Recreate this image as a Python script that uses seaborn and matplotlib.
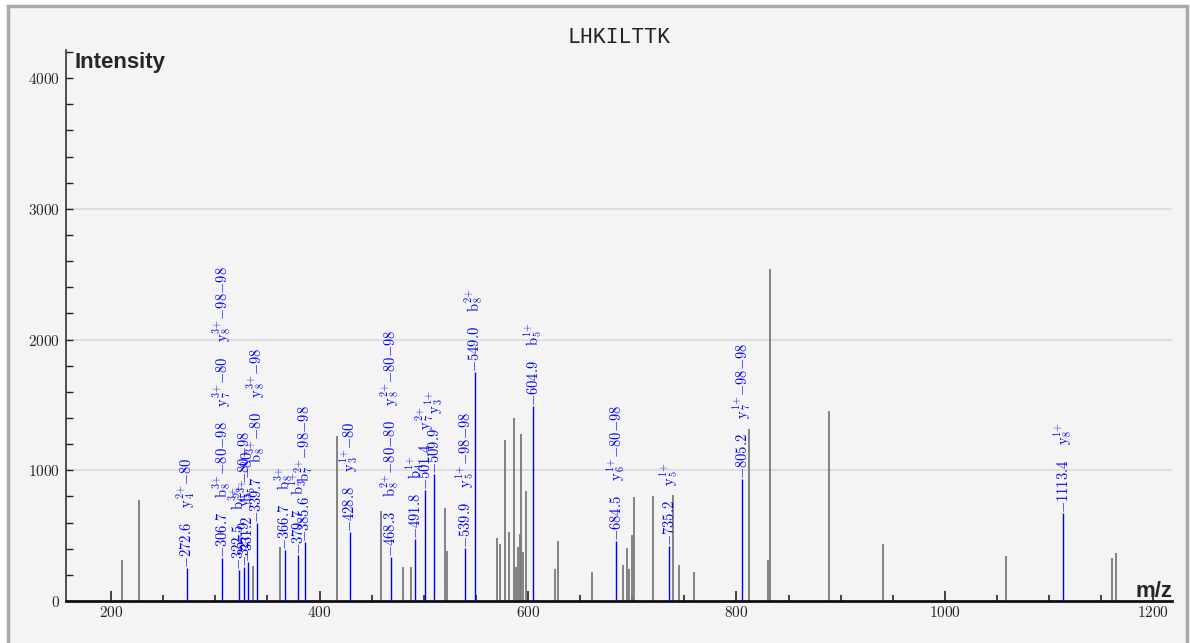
import re
import numpy as np
import pandas as pd
import matplotlib
matplotlib.use("Agg")
import matplotlib.pyplot as plt
import seaborn as sns
from matplotlib.ticker import MultipleLocator, FuncFormatter
from matplotlib.patches import Rectangle

# unmatched (grey) peaks
grey_mz = [210.9, 227.2, 336.0, 362.0, 416.8, 458.7, 480.2, 488.2, 520.2, 522.5,
           570.4, 572.9, 578.4, 581.6, 586.4, 588.6, 590.2, 592.1, 593.1, 595.0,
           598.2, 626.0, 629.2, 661.2, 691.6, 695.4, 697.0, 699.6, 701.5, 719.8,
           739.5, 744.9, 759.0, 812.1, 830.0, 832.2, 888.8, 940.6, 1058.8, 1159.8,
           1164.5]
grey_int = [314, 772, 270, 415, 1262, 691, 260, 262, 714, 385,
            479, 436, 1231, 525, 1397, 262, 410, 512, 1275, 377,
            844, 245, 459, 224, 275, 403, 245, 505, 798, 806,
            808, 275, 219, 1315, 314, 2537, 1453, 436, 344, 326,
            365]

# matched (blue) peaks and their annotations
ion_mz = [272.6, 306.7, 322.5, 327.9, 331.2, 339.7, 366.7, 379.7, 385.6, 428.8,
          468.3, 491.8, 501.4, 509.9, 539.9, 549.0, 604.9, 684.5, 735.2, 805.2,
          1113.4]
ion_int = [250, 326, 237, 260, 298, 596, 390, 352, 454, 530,
           339, 472, 849, 969, 403, 1754, 1494, 459, 423, 933,
           671]
ion_names = [
    ["y4^2+-80"],
    ["b8^3+-80-98", "y7^3+-80", "y8^3+-98-98"],
    ["b6^3+"],
    ["y5^2+-80-98"],
    ["b5^3+-80"],
    ["b8^3+-80", "y8^3+-98"],
    ["b8^3+"],
    ["b3^1+"],
    ["b7^2+-98-98"],
    ["y3^1+-80"],
    ["b8^2+-80-80", "y8^2+-80-98"],
    ["b4^1+"],
    ["y7^2+"],
    ["y3^1+"],
    ["y5^1+-98-98"],
    ["b8^2+"],
    ["b5^1+"],
    ["y6^1+-80-98"],
    ["y5^1+"],
    ["y7^1+-98-98"],
    ["y8^1+"],
]

peptide = "LHKILTTK"

BLUE = "#0000ff"


def ion_tex(s):
    m = re.match(r"([a-z])(\d+)\^(\d)\+(.*)", s)
    series, idx, charge, loss = m.groups()
    loss = loss.replace("-", "{-}")
    return r"\mathrm{%s}_{%s}^{%s{+}}%s" % (series, idx, charge, loss)


def create_plot():
    sns.set_theme(style="white")
    plt.rcParams["mathtext.fontset"] = "cm"
    plt.rcParams["font.family"] = ["DejaVu Sans"]

    fig = plt.figure(figsize=(11.9, 6.43), dpi=100, facecolor="white")
    # panel frame
    fig.patches.append(Rectangle((8 / 1190, -0.05), 1179 / 1190, 1.05 - 6.5 / 643,
                                 transform=fig.transFigure, facecolor="#f4f4f4",
                                 edgecolor="#a9a9a9", linewidth=2.5, zorder=-10))

    ax = fig.add_axes([66 / 1190, 1 - 601 / 643, 1106 / 1190, 551 / 643])
    ax.set_facecolor("none")

    grey = pd.DataFrame({"mz": grey_mz, "intensity": grey_int})
    ions = pd.DataFrame({"mz": ion_mz, "intensity": ion_int})

    ax.vlines(grey["mz"], 0, grey["intensity"], color="#7a7a7a", linewidth=1.3, zorder=2)
    ax.vlines(ions["mz"], 0, ions["intensity"], color=BLUE, linewidth=1.0, zorder=3)

    for mz, inten, names in zip(ion_mz, ion_int, ion_names):
        parts = [r"{-}%.1f" % mz] + [ion_tex(n) for n in names]
        label = "$" + r"\quad\;".join(parts) + "$"
        ax.text(mz, inten, label, rotation=90, ha="center", va="bottom",
                color=BLUE, fontsize=10.5, zorder=4)

    ax.set_xlim(156.8, 1217.8)
    ax.set_ylim(0, 4215)

    ax.xaxis.set_major_locator(MultipleLocator(200))
    ax.xaxis.set_minor_locator(MultipleLocator(50))
    ax.yaxis.set_major_locator(MultipleLocator(1000))
    ax.yaxis.set_minor_locator(MultipleLocator(200))
    fmt = FuncFormatter(lambda v, p: "$%d$" % v)
    ax.xaxis.set_major_formatter(fmt)
    ax.yaxis.set_major_formatter(fmt)

    ax.tick_params(axis="x", which="major", direction="in", length=7.5, width=1.2,
                   color="#222222", labelsize=11, pad=3, bottom=True)
    ax.tick_params(axis="x", which="minor", direction="in", length=4.5, width=1.2,
                   color="#222222", bottom=True)
    ax.tick_params(axis="y", which="both", direction="in", length=5, width=1.0,
                   color="#222222", labelsize=11, pad=4, left=True)

    ax.yaxis.grid(True, color="#dcdcdc", linewidth=1.3, zorder=0)
    ax.set_axisbelow(True)
    for v, gl in zip(ax.get_yticks(), ax.get_ygridlines()):
        if v <= 0 or v >= 4000:
            gl.set_visible(False)

    sns.despine(ax=ax)
    ax.spines["left"].set_color("#333333")
    ax.spines["left"].set_linewidth(1.2)
    ax.spines["bottom"].set_color("#111111")
    ax.spines["bottom"].set_linewidth(2.0)

    ax.set_title(peptide, family="Liberation Mono", fontsize=15.5, color="#222222", pad=5)
    ax.text(0.008, 0.997, "Intensity", transform=ax.transAxes, ha="left", va="top",
            family="Liberation Sans", fontweight="bold", fontsize=16)
    ax.text(1.0, 0.007, "m/z", transform=ax.transAxes, ha="right", va="baseline",
            family="Liberation Sans", fontweight="bold", fontsize=16)

    fig.savefig("out.png", dpi=100, facecolor="white")
    plt.close(fig)


if __name__ == "__main__":
    create_plot()
